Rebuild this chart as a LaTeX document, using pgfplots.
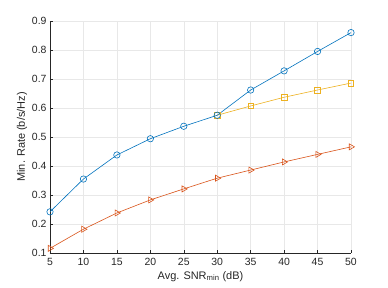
\documentclass[border=0pt]{standalone}
\usepackage{fontspec}
\setmainfont{Liberation Sans}
\usepackage{pgfplots}
\pgfplotsset{compat=1.18}
\definecolor{mblue}{rgb}{0,0.447,0.741}
\definecolor{morange}{rgb}{0.85,0.325,0.098}
\definecolor{myellow}{rgb}{0.929,0.694,0.125}
\definecolor{mgray}{rgb}{0.15,0.15,0.15}
\begin{document}
\begin{tikzpicture}
\begin{axis}[
  scale only axis,
  width=301bp, height=232bp,
  xmin=5, xmax=50, ymin=0.1, ymax=0.9,
  xtick={5,10,...,50},
  ytick={0.1,0.2,...,0.9},
  yticklabel style={/pgf/number format/fixed,/pgf/number format/precision=1,/pgf/number format/fixed zerofill},
  /pgf/number format/assume math mode=true,
  axis lines*=left,
  axis line style={mgray, line width=0.5pt},
  tick style={mgray, line width=0.5pt},
  tick align=inside,
  major tick length=3bp,
  grid=major,
  major grid style={gray!18, line width=0.5pt},
  tick label style={font=\fontsize{10.5}{12}\selectfont, text=mgray},
  xticklabel style={yshift=-1.5bp},
  label style={font=\fontsize{11}{13}\selectfont, text=mgray},
  xlabel={Avg. SNR$_{\mathrm{min}}$ (dB)},
  ylabel={Min. Rate (b/s/Hz)},
  xlabel style={yshift=1bp},
  ylabel style={yshift=-2bp},
  every axis plot/.append style={line width=0.6pt},
  clip=false,
]
\addplot[myellow, mark=square, mark size=2.8bp, mark options={solid}] coordinates {
(30,0.575) (35,0.607) (40,0.637) (45,0.662) (50,0.686)};
\addplot[mblue, mark=o, mark size=3.2bp] coordinates {
(5,0.242) (10,0.355) (15,0.438) (20,0.494) (25,0.537) (30,0.575) (35,0.662) (40,0.728) (45,0.795) (50,0.860)};
\addplot[morange, mark=triangle, mark size=3.5bp, mark options={rotate=-90}] coordinates {
(5,0.116) (10,0.182) (15,0.238) (20,0.283) (25,0.321) (30,0.358) (35,0.386) (40,0.414) (45,0.440) (50,0.466)};
\coordinate (sw) at (rel axis cs:0,0);
\coordinate (ne) at (rel axis cs:1,1);
\end{axis}
\pgfresetboundingbox
\path ([shift={(-50bp,-35bp)}]sw) rectangle ([shift={(37bp,21bp)}]ne);
\end{tikzpicture}
\end{document}
